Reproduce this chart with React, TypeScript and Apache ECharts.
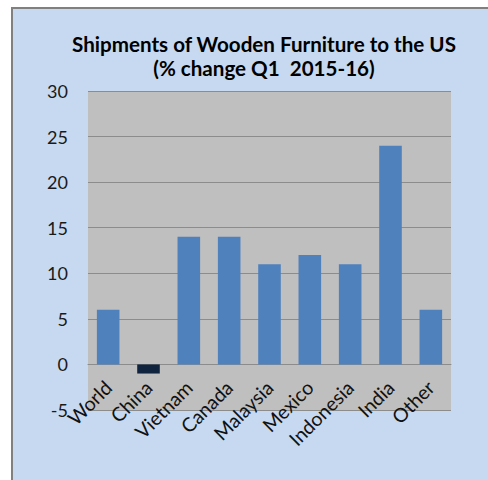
import React, { useEffect, useRef } from "react";
import * as echarts from "echarts";

const categories = ["World", "China", "Vietnam", "Canada", "Malaysia", "Mexico", "Indonesia", "India", "Other"];
const values = [6, -1, 14, 14, 11, 12, 11, 24, 6];
const titleLines = ["Shipments of Wooden Furniture to the US", "(% change Q1  2015-16)"];

export default function App() {
  const ref = useRef<HTMLDivElement>(null);
  useEffect(() => {
    if (!ref.current) return;
    const chart = echarts.init(ref.current, null, { renderer: "svg" });
    chart.setOption({
      animation: false,
      backgroundColor: "#ffffff",
      graphic: [
        {
          type: "rect",
          z: -10,
          shape: { x: 12, y: 8, width: 500, height: 500 },
          style: { fill: "#C6D9F1", stroke: "#808080", lineWidth: 2 },
        },
      ],
      title: {
        text: titleLines.join("\n"),
        left: 259,
        top: 27,
        textAlign: "center",
        textStyle: {
          fontFamily: "Lato",
          fontWeight: "bold",
          fontSize: 20.6,
          lineHeight: 24,
          color: "#000000",
        },
      },
      grid: {
        left: 88,
        right: 37,
        top: 91,
        bottom: 70,
        show: true,
        backgroundColor: "#BFBFBF",
        borderWidth: 0,
      },
      xAxis: {
        type: "category",
        data: categories,
        position: "bottom",
        offset: -46,
        axisLine: { onZero: false, lineStyle: { color: "#8C8C8C", width: 1 } },
        axisTick: { show: false },
        axisLabel: {
          rotate: 45,
          margin: 20,
          fontFamily: "Lato",
          fontSize: 19.5,
          color: "#111111",
          interval: 0,
        },
      },
      yAxis: {
        type: "value",
        min: -5,
        max: 30,
        interval: 5,
        axisLine: { show: false },
        axisTick: { show: false },
        splitLine: { lineStyle: { color: "#8C8C8C", width: 1 } },
        axisLabel: {
          margin: 20,
          fontFamily: "Lato",
          fontSize: 18,
          color: "#1a1a1a",
        },
      },
      series: [
        {
          type: "bar",
          data: values.map((v) => ({
            value: v,
            itemStyle: { color: v < 0 ? "#10243F" : "#4F81BD" },
          })),
          barWidth: "56%",
        },
      ],
    });
    return () => chart.dispose();
  }, []);
  return (
    <div
      ref={ref}
      style={{ position: "absolute", left: 0, top: 0, width: 488, height: 480 }}
    />
  );
}
